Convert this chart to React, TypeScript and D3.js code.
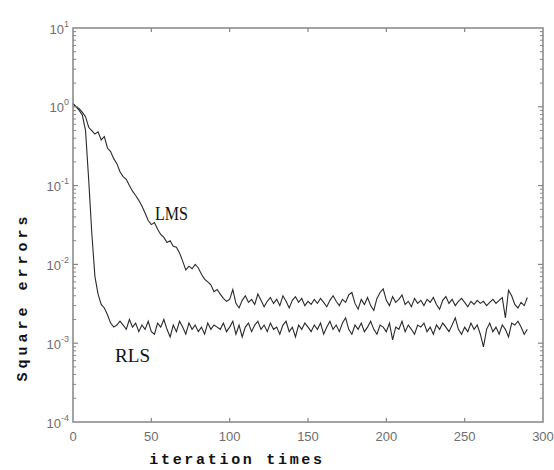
import React from "react";
import * as d3 from "d3";

const iterations: number[] = d3.range(0, 291, 2);

const lmsValues: number[] = [
  1.1, 1.0, 0.95, 0.85, 0.75, 0.55, 0.5, 0.45, 0.48, 0.38,
  0.42, 0.3, 0.27, 0.22, 0.19, 0.15, 0.13, 0.12, 0.1, 0.085,
  0.075, 0.065, 0.055, 0.045, 0.036, 0.032, 0.034, 0.028, 0.024, 0.022,
  0.019, 0.02, 0.017, 0.0165, 0.014, 0.011, 0.0085, 0.0095, 0.0088, 0.01,
  0.009, 0.0075, 0.0065, 0.006, 0.0055, 0.0045, 0.0048, 0.0042, 0.0037, 0.0034,
  0.0036, 0.0048, 0.0032, 0.0028, 0.0035, 0.004,
  0.0033, 0.0036, 0.0031, 0.0042, 0.0035, 0.0029, 0.0034, 0.0038, 0.0032, 0.0036,
  0.003, 0.004, 0.0034, 0.0028, 0.0035, 0.0039, 0.0033, 0.0037, 0.003, 0.0034,
  0.0031, 0.0036, 0.0032, 0.0037, 0.0033, 0.0029, 0.0035, 0.004, 0.0034, 0.003,
  0.0036, 0.0033, 0.0041, 0.0044, 0.0032, 0.0027, 0.0036, 0.0031, 0.0038, 0.003,
  0.0026, 0.0037, 0.0044, 0.0049, 0.0035, 0.003, 0.0039, 0.0033, 0.0036, 0.0041,
  0.0031, 0.0034, 0.0029, 0.0037, 0.0032, 0.0035, 0.003, 0.0036, 0.0033, 0.0038,
  0.0031, 0.0027, 0.0035, 0.0039, 0.0032, 0.0036, 0.003, 0.0034, 0.0037, 0.0033,
  0.0029, 0.0034, 0.0031, 0.0035, 0.0032, 0.0034, 0.003, 0.0033, 0.0036, 0.0032,
  0.0035, 0.0038, 0.0021, 0.0047, 0.004, 0.0031, 0.0028, 0.0033, 0.003, 0.0038,
];

const rlsValues: number[] = [
  1.1, 1.0, 0.9, 0.78, 0.5, 0.12, 0.025, 0.007, 0.0042, 0.0031,
  0.0028, 0.0023, 0.0018, 0.0016, 0.0017,
  0.0019, 0.0017, 0.0015, 0.002, 0.0016, 0.0018, 0.0014, 0.0017, 0.0015, 0.0019,
  0.0014, 0.0013, 0.0018, 0.0016, 0.002, 0.0015, 0.0012, 0.0017, 0.0014, 0.0019,
  0.0016, 0.0013, 0.0018, 0.0015, 0.0017, 0.0014, 0.0016, 0.0013, 0.0018, 0.0015,
  0.0017, 0.0016, 0.0015, 0.0018, 0.0014, 0.0016, 0.0019, 0.0013, 0.0017, 0.0012,
  0.0016, 0.0018, 0.0014, 0.0017, 0.0019, 0.0015, 0.0017, 0.0014, 0.0018, 0.0015,
  0.0016, 0.0013, 0.0017, 0.0019, 0.0014, 0.0016, 0.0012, 0.0017, 0.0015, 0.0018,
  0.0016, 0.0014, 0.0017, 0.0015, 0.0018, 0.0013, 0.0016, 0.0019, 0.0015, 0.0017,
  0.0014, 0.0018, 0.0021, 0.0015, 0.0013, 0.0017, 0.0015, 0.0018, 0.0014, 0.0016,
  0.0019, 0.0015, 0.0013, 0.0017, 0.0016, 0.0014, 0.0018, 0.0011, 0.0016, 0.0015,
  0.0019, 0.0014, 0.0017, 0.0015, 0.0013, 0.0017, 0.0016, 0.0018, 0.0014, 0.0016,
  0.0013, 0.0017, 0.0015, 0.0018, 0.0016, 0.0014, 0.0017, 0.0021, 0.0015, 0.0013,
  0.0016, 0.0014, 0.0018, 0.0015, 0.0017, 0.0013, 0.0009, 0.0015, 0.0018, 0.0014,
  0.0016, 0.0013, 0.0017, 0.0015, 0.0012, 0.0018, 0.0017, 0.0019, 0.0016, 0.0013, 0.0015,
];

const xTicks: number[] = [0, 50, 100, 150, 200, 250, 300];
const yExponents: number[] = [1, 0, -1, -2, -3, -4];

const W = 554;
const H = 470;
const left = 73;
const right = 543;
const top = 28;
const bottom = 422;

export default function App() {
  const x = d3.scaleLinear().domain([0, 300]).range([left, right]);
  const y = d3.scaleLog().domain([1e-4, 10]).range([bottom, top]);

  const line = d3
    .line<[number, number]>()
    .x((d) => x(d[0]))
    .y((d) => y(d[1]));

  const lmsPts = iterations.map((it, i) => [it, lmsValues[i]] as [number, number]).filter((d) => d[1] !== undefined);
  const rlsPts = iterations.map((it, i) => [it, rlsValues[i]] as [number, number]).filter((d) => d[1] !== undefined);

  const axisColor = "#858585";
  const minorTicks: number[] = [];
  for (let e = -4; e < 1; e++) {
    for (let k = 2; k <= 9; k++) minorTicks.push(k * Math.pow(10, e));
  }

  return (
    <svg width={W} height={H} style={{ position: "absolute", left: 0, top: 0, background: "#fff" }}>
      {/* lines */}
      <path d={line(rlsPts) || ""} fill="none" stroke="#2a2a2a" strokeWidth={1.1} />
      <path d={line(lmsPts) || ""} fill="none" stroke="#2a2a2a" strokeWidth={1.1} />

      {/* frame */}
      <rect x={left} y={top} width={right - left} height={bottom - top} fill="none" stroke={axisColor} strokeWidth={1.5} />

      {/* x ticks */}
      {xTicks.map((t) => (
        <g key={"xt" + t}>
          {t > 0 && t < 300 && (
            <>
              <line x1={x(t)} x2={x(t)} y1={bottom} y2={bottom - 4} stroke={axisColor} strokeWidth={1.2} />
              <line x1={x(t)} x2={x(t)} y1={top} y2={top + 4} stroke={axisColor} strokeWidth={1.2} />
            </>
          )}
          <text x={x(t)} y={441} textAnchor="middle" fontFamily="Liberation Sans, Arial, sans-serif" fontSize={13} fill="#6e6e6e">
            {t}
          </text>
        </g>
      ))}

      {/* y major ticks & labels */}
      {yExponents.map((e) => (
        <g key={"yt" + e}>
          {e < 1 && e > -4 && (
            <>
              <line x1={left} x2={left + 5} y1={y(Math.pow(10, e))} y2={y(Math.pow(10, e))} stroke={axisColor} strokeWidth={1.2} />
              <line x1={right} x2={right - 5} y1={y(Math.pow(10, e))} y2={y(Math.pow(10, e))} stroke={axisColor} strokeWidth={1.2} />
            </>
          )}
          <text x={69} y={y(Math.pow(10, e)) + 5.5} textAnchor="end" fontFamily="Liberation Sans, Arial, sans-serif" fontSize={13} fill="#6e6e6e">
            10
            <tspan fontSize={9} dy={-7}>
              {e === 0 ? "0" : String(e)}
            </tspan>
          </text>
        </g>
      ))}

      {/* y minor ticks */}
      {minorTicks.map((v, i) => (
        <g key={"mt" + i}>
          <line x1={left} x2={left + 3} y1={y(v)} y2={y(v)} stroke={axisColor} strokeWidth={1} />
          <line x1={right} x2={right - 3} y1={y(v)} y2={y(v)} stroke={axisColor} strokeWidth={1} />
        </g>
      ))}

      {/* annotations */}
      <text x={155} y={220} fontFamily="Liberation Serif, Times New Roman, serif" fontSize={18} fill="#111" textLength={33} lengthAdjust="spacingAndGlyphs">
        LMS
      </text>
      <text x={115} y={362} fontFamily="Liberation Serif, Times New Roman, serif" fontSize={18} fill="#111" textLength={35} lengthAdjust="spacingAndGlyphs">
        RLS
      </text>

      {/* axis labels */}
      <text x={237} y={464} textAnchor="middle" fontFamily="Liberation Mono, Courier New, monospace" fontSize={15} fontWeight="bold" fill="#111" letterSpacing={2.7}>
        iteration times
      </text>
      <text
        transform={`translate(27, 297) rotate(-90)`}
        textAnchor="middle"
        fontFamily="Liberation Mono, Courier New, monospace"
        fontSize={15}
        fontWeight="bold"
        fill="#111"
        letterSpacing={4}
      >
        Square errors
      </text>
    </svg>
  );
}
